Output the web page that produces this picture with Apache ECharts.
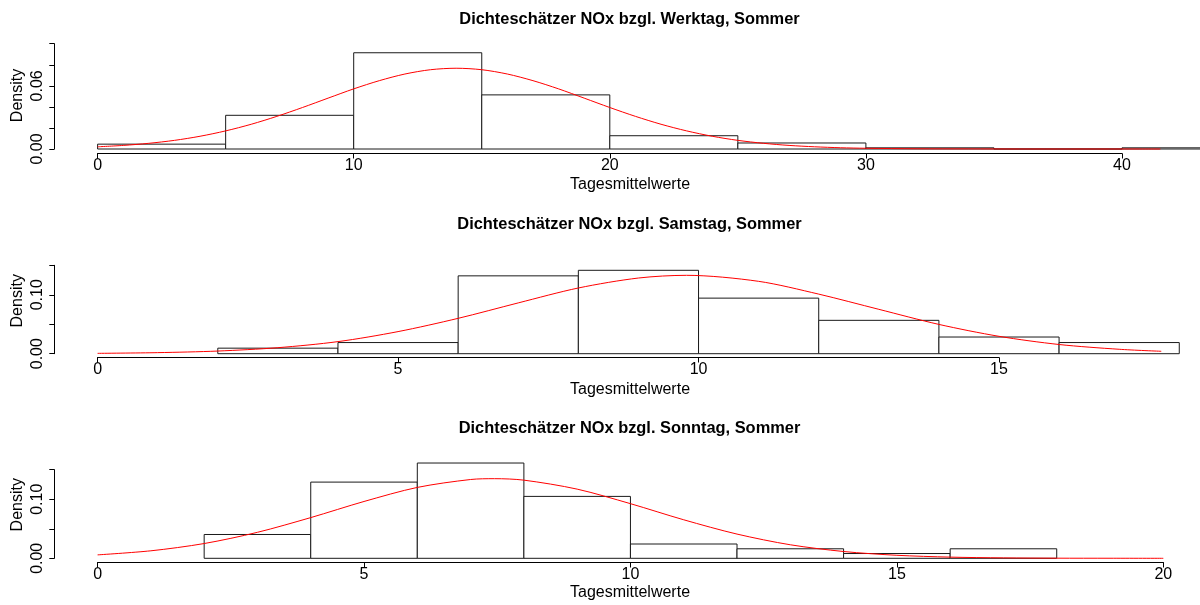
<!DOCTYPE html>
<html lang="de">
<head>
<meta charset="utf-8">
<title>Dichteschätzer NOx, Sommer</title>
<script src="https://cdn.jsdelivr.net/npm/echarts@6/dist/echarts.min.js"></script>
<style>
  html, body { margin: 0; padding: 0; background: #fff; }
  #chart { width: 1200px; height: 605px; }
</style>
</head>
<body>
<div id="chart"></div>
<script>
// --- Werktag ---
var werktagBreaks = [0, 5, 10, 15, 20, 25, 30, 35, 40, 45];
var werktagDensity = [0.0046, 0.0320, 0.0914, 0.0514, 0.0126, 0.0057, 0.0011, 0, 0.0011];
var werktagCurveX = [0, 1, 2, 3, 4, 5, 6, 7, 8, 9, 10, 11, 12, 13, 14, 15, 16, 17, 18, 19, 20,
    21, 22, 23, 24, 25, 26, 27, 28, 29, 30, 32, 34, 36, 38, 40, 41.5];
var werktagCurveY = [0.0021, 0.0034, 0.0054, 0.0082, 0.0121, 0.0172, 0.0235, 0.0310, 0.0394, 0.0483,
    0.0571, 0.0649, 0.0712, 0.0753, 0.0767, 0.0753, 0.0712, 0.0649, 0.0571, 0.0483, 0.0394,
    0.0310, 0.0235, 0.0172, 0.0121, 0.0082, 0.0054, 0.0034, 0.0021, 0.0012, 0.0007, 0.0002,
    0.0001, 0, 0, 0, 0];
var werktagXTicks = [0, 10, 20, 30, 40];
var werktagYTicks = [0, 0.02, 0.04, 0.06, 0.08, 0.10];
var werktagYLabels = [0, 0.06];

// --- Samstag ---
var samstagBreaks = [2, 4, 6, 8, 10, 12, 14, 16, 18];
var samstagDensity = [0.0094, 0.0189, 0.1321, 0.1415, 0.0943, 0.0566, 0.0283, 0.0189];
var samstagCurveX = [0, 1, 2, 3, 4, 5, 6, 7, 8, 9, 9.8, 11, 12, 13, 14, 15, 16, 17, 17.7];
var samstagCurveY = [0.0006, 0.0018, 0.0045, 0.0102, 0.0205, 0.0375, 0.0600, 0.0862, 0.1115,
    0.1284, 0.1330, 0.1228, 0.1011, 0.0753, 0.0497, 0.0295, 0.0156, 0.0075, 0.0041];
var samstagXTicks = [0, 5, 10, 15];
var samstagYTicks = [0, 0.05, 0.10, 0.15];
var samstagYLabels = [0, 0.10];

// --- Sonntag ---
var sonntagBreaks = [2, 4, 6, 8, 10, 12, 14, 16, 18];
var sonntagDensity = [0.0403, 0.1290, 0.1613, 0.1048, 0.0242, 0.0161, 0.0081, 0.0161];
var sonntagCurveX = [0, 1, 2, 3, 4, 5, 6, 7, 7.45, 8, 9, 10, 11, 12, 13, 14, 15, 16, 17, 18, 19, 20];
var sonntagCurveY = [0.0058, 0.0127, 0.0250, 0.0440, 0.0689, 0.0962, 0.1200, 0.1334, 0.1348, 0.1323,
    0.1171, 0.0925, 0.0652, 0.0410, 0.0229, 0.0115, 0.0051, 0.0020, 0.0007, 0.0002, 0.0001, 0];
var sonntagXTicks = [0, 5, 10, 15, 20];
var sonntagYTicks = [0, 0.05, 0.10, 0.15];
var sonntagYLabels = [0, 0.10];

var FONT = '"Liberation Sans", Arial, Helvetica, sans-serif';
var INK = '#000';

// pixel layout of the three panels (x0 = pixel of x=0, y0 = pixel of density 0,
// axisY = pixel row of the x axis line, a few px below the bars as in R)
var panels = [
    {
        title: 'Dichteschätzer NOx bzgl. Werktag, Sommer',
        breaks: werktagBreaks, density: werktagDensity, cx: werktagCurveX, cy: werktagCurveY,
        xTicks: werktagXTicks, yTicks: werktagYTicks, yLabels: werktagYLabels,
        x0: 97.6, xEnd: 1122, y0: 149, yTop: 43.7, axisY: 153.5, dataXMax: 43, dataYMax: 0.10,
        titleY: 19, xlabY: 185, ylabY: 95.5
    },
    {
        title: 'Dichteschätzer NOx bzgl. Samstag, Sommer',
        breaks: samstagBreaks, density: samstagDensity, cx: samstagCurveX, cy: samstagCurveY,
        xTicks: samstagXTicks, yTicks: samstagYTicks, yLabels: samstagYLabels,
        x0: 97.6, xEnd: 999, y0: 353.7, yTop: 265.3, axisY: 357.5, dataXMax: 18, dataYMax: 0.15,
        titleY: 224.5, xlabY: 390, ylabY: 300.8
    },
    {
        title: 'Dichteschätzer NOx bzgl. Sonntag, Sommer',
        breaks: sonntagBreaks, density: sonntagDensity, cx: sonntagCurveX, cy: sonntagCurveY,
        xTicks: sonntagXTicks, yTicks: sonntagYTicks, yLabels: sonntagYLabels,
        x0: 97.6, xEnd: 1163.3, y0: 558.3, yTop: 469.7, axisY: 562.5, dataXMax: 20, dataYMax: 0.17,
        titleY: 428.7, xlabY: 593, ylabY: 504.7
    }
];

var W = 1200, H = 605;
var YAXIS_X = 54.3;
var grid = [], xAxis = [], yAxis = [], series = [], graphic = [];

function hiddenAxis(gi, min, max) {
    return { gridIndex: gi, type: 'value', min: min, max: max, show: false };
}

panels.forEach(function (p, i) {
    var xMaxTick = p.xTicks[p.xTicks.length - 1];
    var yMaxTick = p.yTicks[p.yTicks.length - 1];
    var pxPerX = (p.xEnd - p.x0) / xMaxTick;
    var pxPerY = (p.y0 - p.yTop) / yMaxTick;
    var g = 3 * i;

    // grid g: flat strip holding the x axis; its border doubles as the axis line
    grid.push({
        left: p.x0, right: W - p.xEnd, top: p.axisY, bottom: H - p.axisY, outerBoundsMode: 'none',
        show: true, backgroundColor: 'transparent', borderColor: INK, borderWidth: 1
    });
    // grid g+1: y axis, left of the plot
    grid.push({ left: YAXIS_X, right: W - p.xEnd, top: p.yTop, bottom: H - p.y0, outerBoundsMode: 'none' });
    // grid g+2: histogram and curve
    grid.push({
        left: p.x0, right: W - (p.x0 + p.dataXMax * pxPerX),
        top: p.y0 - p.dataYMax * pxPerY, bottom: H - p.y0, outerBoundsMode: 'none'
    });

    xAxis.push({
        gridIndex: g, type: 'value', min: 0, max: xMaxTick, z: 10,
        interval: p.xTicks[1] - p.xTicks[0],
        axisLine: { show: true, onZero: false, lineStyle: { color: INK, width: 1 } },
        axisTick: { show: true, length: 5, lineStyle: { color: INK } },
        axisLabel: { show: true, color: '#000', fontFamily: FONT, fontSize: 16, margin: 4, showMinLabel: true, showMaxLabel: true },
        splitLine: { show: false }
    });
    yAxis.push(hiddenAxis(g, 0, 1));

    xAxis.push(hiddenAxis(g + 1, 0, 1));
    yAxis.push({
        gridIndex: g + 1, type: 'value', min: 0, max: yMaxTick, z: 10,
        interval: p.yTicks[1] - p.yTicks[0],
        axisLine: { show: true, onZero: false, lineStyle: { color: INK, width: 1 } },
        axisTick: { show: true, length: 5, lineStyle: { color: INK } },
        axisLabel: {
            show: true, color: '#000', fontFamily: FONT, fontSize: 16, rotate: 90, margin: 9,
            showMinLabel: true, showMaxLabel: true,
            formatter: function (v) {
                for (var k = 0; k < p.yLabels.length; k++) {
                    if (Math.abs(v - p.yLabels[k]) < 1e-9) return v.toFixed(2);
                }
                return '';
            }
        },
        splitLine: { show: false }
    });

    xAxis.push(hiddenAxis(g + 2, 0, p.dataXMax));
    yAxis.push(hiddenAxis(g + 2, 0, p.dataYMax));

    var bins = [];
    for (var b = 0; b < p.density.length; b++) {
        bins.push([p.breaks[b], p.breaks[b + 1], p.density[b]]);
    }
    var curve = p.cx.map(function (x, k) { return [x, p.cy[k]]; });

    series.push({
        type: 'custom', xAxisIndex: g + 2, yAxisIndex: g + 2,
        data: bins, silent: true, clip: false,
        renderItem: function (params, api) {
            var a = api.coord([api.value(0), api.value(2)]);
            var c = api.coord([api.value(1), 0]);
            return {
                type: 'rect',
                shape: { x: a[0], y: a[1], width: c[0] - a[0], height: c[1] - a[1] },
                style: { fill: '#fff', stroke: '#1a1a1a', lineWidth: 1 }
            };
        }
    });
    series.push({
        type: 'line', xAxisIndex: g + 2, yAxisIndex: g + 2,
        data: curve, smooth: 0.3, showSymbol: false, silent: true, clip: false,
        lineStyle: { color: '#ff0000', width: 1 }, z: 5
    });

    graphic.push({
        type: 'text', x: 629.5, y: p.titleY,
        style: { text: p.title, font: 'bold 16.4px ' + FONT, fill: '#000', textAlign: 'center', textVerticalAlign: 'middle' }
    });
    graphic.push({
        type: 'text', x: 630, y: p.xlabY,
        style: { text: 'Tagesmittelwerte', font: '16px ' + FONT, fill: '#000', textAlign: 'center', textVerticalAlign: 'middle' }
    });
    graphic.push({
        type: 'text', x: 18, y: p.ylabY, rotation: Math.PI / 2,
        style: { text: 'Density', font: '16px ' + FONT, fill: '#000', textAlign: 'center', textVerticalAlign: 'middle' }
    });
});

var chart = echarts.init(document.getElementById('chart'), null, { renderer: 'canvas' });
chart.setOption({
    animation: false,
    backgroundColor: '#fff',
    grid: grid,
    xAxis: xAxis,
    yAxis: yAxis,
    series: series,
    graphic: graphic
});
</script>
</body>
</html>
